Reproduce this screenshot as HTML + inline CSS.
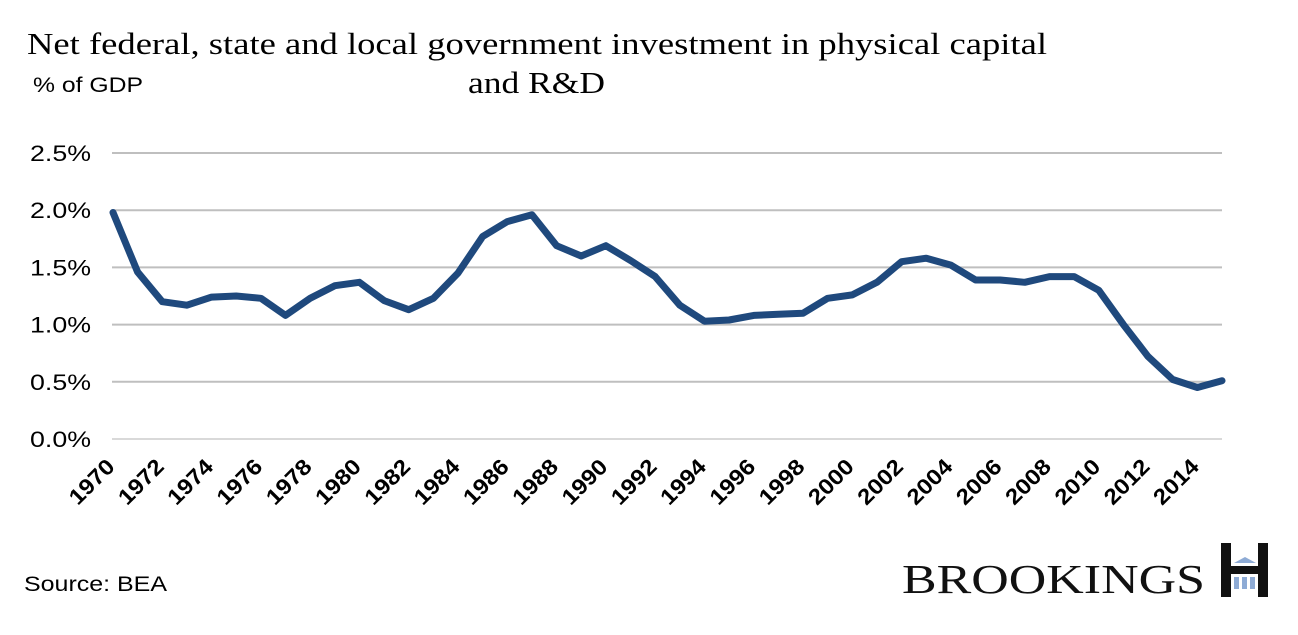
<!DOCTYPE html>
<html><head><meta charset="utf-8"><style>
html,body{margin:0;padding:0;background:#fff;}
svg{display:block;}
</style></head><body>
<svg width="1298" height="635" viewBox="0 0 1298 635">
<text x="27" y="54" font-family="Liberation Serif, serif" font-size="31" textLength="1020" lengthAdjust="spacingAndGlyphs" fill="#000">Net federal, state and local government investment in physical capital</text>
<text x="468" y="93" font-family="Liberation Serif, serif" font-size="31" textLength="137" lengthAdjust="spacingAndGlyphs" fill="#000">and R&amp;D</text>
<text x="33" y="92" font-family="Liberation Sans, sans-serif" font-size="21" textLength="110" lengthAdjust="spacingAndGlyphs" fill="#000">% of GDP</text>
<g id="grid"></g>
<g id="yticks"></g>
<g id="xticks"></g>
<path id="line" fill="none" stroke="#1f497d" stroke-width="7" stroke-linejoin="round" stroke-linecap="round"/>
<text x="24" y="591" font-family="Liberation Sans, sans-serif" font-size="21" textLength="143" lengthAdjust="spacingAndGlyphs" fill="#000">Source: BEA</text>
<g>
<text x="902" y="593" font-family="Liberation Serif, serif" font-size="41" textLength="303" lengthAdjust="spacingAndGlyphs" fill="#111">BROOKINGS</text>
<rect x="1221" y="543" width="10" height="54" fill="#111"/>
<rect x="1258" y="543" width="10" height="54" fill="#111"/>
<rect x="1221" y="566" width="47" height="8" fill="#111"/>
<polygon points="1234,563 1245,557 1256,563" fill="#8eabd5"/>
<rect x="1234" y="577" width="5" height="12" fill="#8eabd5"/>
<rect x="1242" y="577" width="5" height="12" fill="#8eabd5"/>
<rect x="1250" y="577" width="5" height="12" fill="#8eabd5"/>
</g>
</svg>
<script>
const years=[];for(let y=1970;y<=2015;y++)years.push(y);
const values=[1.98,1.46,1.20,1.17,1.24,1.25,1.23,1.08,1.23,1.34,1.37,1.21,1.13,1.23,1.45,1.77,1.90,1.96,1.69,1.60,1.69,1.56,1.42,1.17,1.03,1.04,1.08,1.09,1.10,1.23,1.26,1.37,1.55,1.58,1.52,1.39,1.39,1.37,1.42,1.42,1.30,1.00,0.72,0.52,0.45,0.51];
const yTicks=[0,0.5,1.0,1.5,2.0,2.5];
const yTickLabels=["0.0%","0.5%","1.0%","1.5%","2.0%","2.5%"];
const NS="http://www.w3.org/2000/svg";
const x=yr=>113+(yr-1970)*(1222-113)/45;
const y=v=>439-v*114.4;
const grid=document.getElementById('grid'),yt=document.getElementById('yticks'),xt=document.getElementById('xticks');
yTicks.forEach((t,i)=>{
 const l=document.createElementNS(NS,'line');
 l.setAttribute('x1',112);l.setAttribute('x2',1222);l.setAttribute('y1',y(t));l.setAttribute('y2',y(t));
 l.setAttribute('stroke',i==0?'#d9d9d9':'#bfbfbf');l.setAttribute('stroke-width',2);
 
 
 grid.appendChild(l);
 const tx=document.createElementNS(NS,'text');
 tx.setAttribute('x',30);tx.setAttribute('y',y(t)+8);
 tx.setAttribute('textLength','61');tx.setAttribute('lengthAdjust','spacingAndGlyphs');
 tx.setAttribute('font-family','Liberation Sans, sans-serif');tx.setAttribute('font-size','22');
 tx.textContent=yTickLabels[i];
 
 
 yt.appendChild(tx);
});
years.forEach(yr=>{
 if((yr-1970)%2)return;
 const tx=document.createElementNS(NS,'text');
 const px=x(yr)+3,py=468;
 tx.setAttribute('x',px);tx.setAttribute('y',py);tx.setAttribute('text-anchor','end');
 tx.setAttribute('transform',`rotate(-45 ${px} ${py})`);
 tx.setAttribute('font-family','Liberation Sans, sans-serif');tx.setAttribute('font-size','22');tx.setAttribute('font-weight','bold');
 tx.setAttribute('textLength','54');tx.setAttribute('lengthAdjust','spacingAndGlyphs');
 tx.textContent=yr;
 
 
 xt.appendChild(tx);
});
document.getElementById('line').setAttribute('d',values.map((v,i)=>(i?'L':'M')+x(years[i]).toFixed(1)+','+y(v).toFixed(1)).join(''));
</script>
</body></html>
